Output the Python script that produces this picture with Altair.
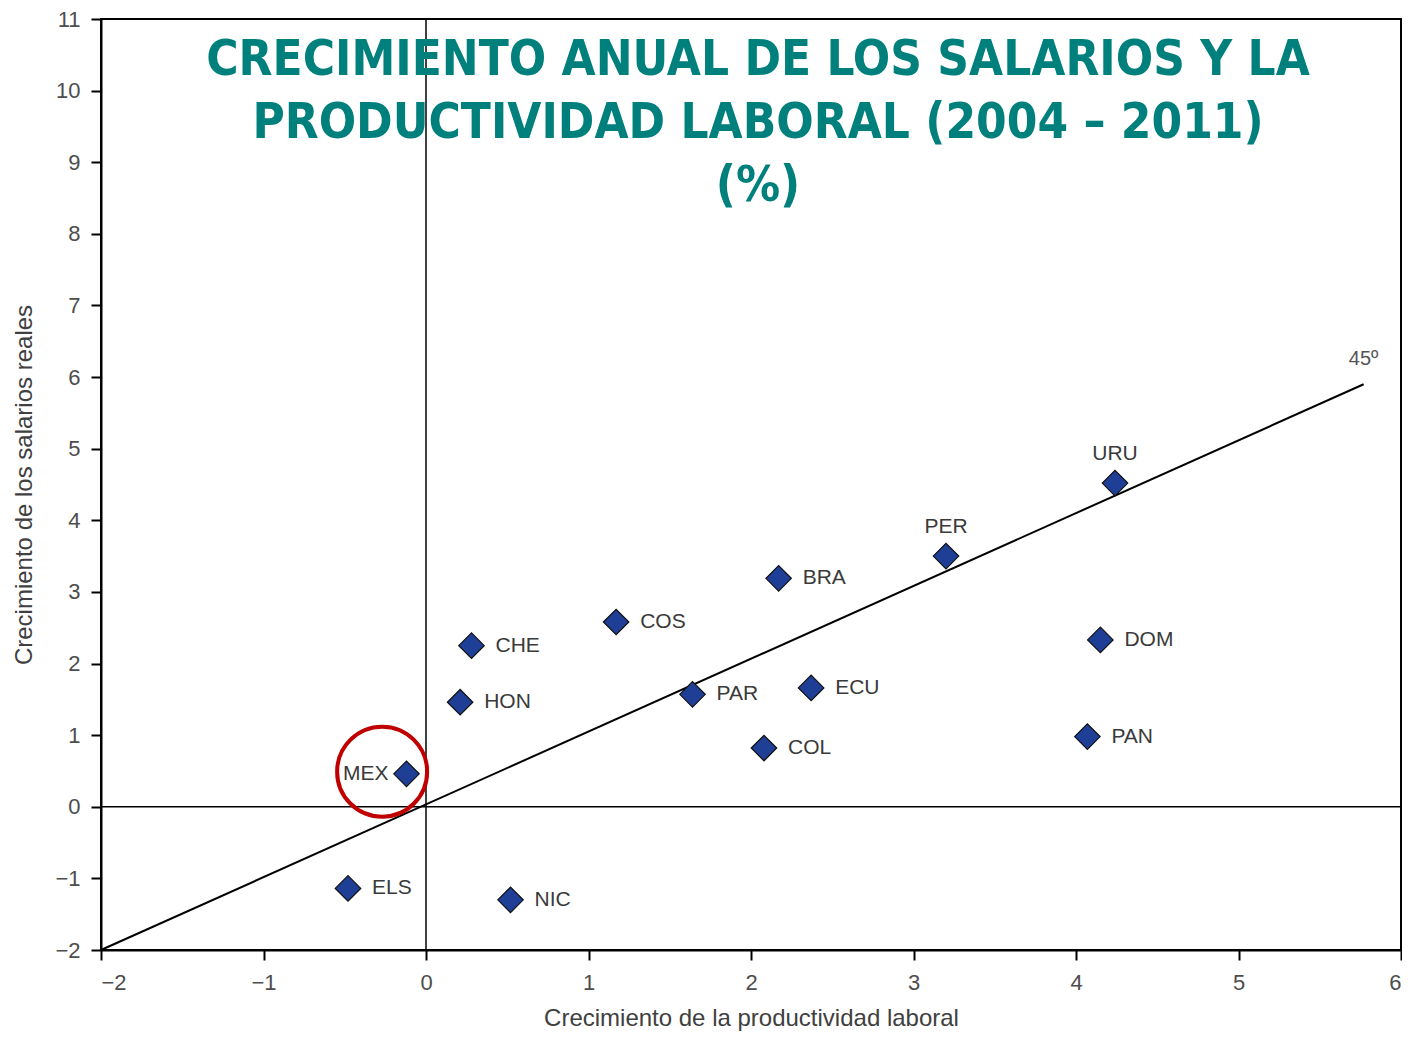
import altair as alt
import pandas as pd

# ---- data ----
countries = ["MEX", "ELS", "NIC", "HON", "CHE", "COS", "PAR", "BRA", "COL", "ECU", "PER", "URU", "DOM", "PAN"]
productividad = [-0.12, -0.48, 0.52, 0.21, 0.28, 1.17, 1.64, 2.17, 2.08, 2.37, 3.20, 4.24, 4.15, 4.07]
salarios = [0.46, -1.14, -1.30, 1.46, 2.25, 2.58, 1.57, 3.19, 0.82, 1.66, 3.50, 4.52, 2.33, 0.98]
label_pos = ["left", "right", "right", "right", "right", "right", "right", "right",
             "right", "right", "above", "above", "right", "right"]

line_x = [-2.0, 5.77]
line_y = [-2.0, 5.90]
line_label = ["", "45º"]

circle_x = [-0.27]
circle_y = [0.49]

x_ticks = [-2, -1, 0, 1, 2, 3, 4, 5, 6]
y_ticks = [-2, -1, 0, 1, 2, 3, 4, 5, 6, 7, 8, 9, 10, 11]

title_lines = ["CRECIMIENTO ANUAL DE LOS SALARIOS Y LA",
               "PRODUCTIVIDAD LABORAL (2004 – 2011)",
               "(%)"]
x_title = "Crecimiento de la productividad laboral"
y_title = "Crecimiento de los salarios reales"

# ---- tables ----
pts = pd.DataFrame({"pais": countries, "x": productividad, "y": salarios, "pos": label_pos})
line_df = pd.DataFrame({"x": line_x, "y": line_y, "lab": line_label})
circ_df = pd.DataFrame({"x": circle_x, "y": circle_y})
zero_df = pd.DataFrame({"x": [0.0], "y": [0.0]})

NARROW = "Liberation Sans Narrow, Arial Narrow, Liberation Sans, sans-serif"

xscale = alt.Scale(domain=[-2, 6], nice=False, zero=False)
yscale = alt.Scale(domain=[-2, 11], nice=False, zero=False)


def X(axis=True):
    if axis:
        return alt.X("x:Q", scale=xscale,
                     axis=alt.Axis(values=x_ticks, title=x_title, grid=False,
                                   labelPadding=12, titlePadding=13, format="d"))
    return alt.X("x:Q", scale=xscale)


def Y(axis=True):
    if axis:
        return alt.Y("y:Q", scale=yscale,
                     axis=alt.Axis(values=y_ticks, title=y_title, grid=False,
                                   labelPadding=11, titlePadding=18, format="d"))
    return alt.Y("y:Q", scale=yscale)


base_axes = alt.Chart(zero_df).mark_point(opacity=0).encode(x=X(), y=Y())

zero_v = alt.Chart(zero_df).mark_rule(color="black", strokeWidth=1.5).encode(x=X(False))
zero_h = alt.Chart(zero_df).mark_rule(color="black", strokeWidth=1.5).encode(y=Y(False))

diag = alt.Chart(line_df).mark_line(color="black", strokeWidth=2).encode(x=X(False), y=Y(False))
diag_lab = alt.Chart(line_df).mark_text(
    font=NARROW, fontSize=20, color="#555555", align="center", baseline="alphabetic", dy=-19
).encode(x=X(False), y=Y(False), text="lab:N")

points = alt.Chart(pts).mark_point(
    shape="diamond", filled=True, size=650, fill="#1f3f96", stroke="#111111",
    strokeWidth=1.2, opacity=1
).encode(x=X(False), y=Y(False))

lab_right = alt.Chart(pts).transform_filter(alt.datum.pos == "right").mark_text(
    font=NARROW, fontSize=21, color="#3a3a3a", align="left", baseline="middle", dx=24
).encode(x=X(False), y=Y(False), text="pais:N")

lab_left = alt.Chart(pts).transform_filter(alt.datum.pos == "left").mark_text(
    font=NARROW, fontSize=21, color="#3a3a3a", align="right", baseline="middle", dx=-18
).encode(x=X(False), y=Y(False), text="pais:N")

lab_above = alt.Chart(pts).transform_filter(alt.datum.pos == "above").mark_text(
    font=NARROW, fontSize=21, color="#3a3a3a", align="center", baseline="alphabetic", dy=-23
).encode(x=X(False), y=Y(False), text="pais:N")

circle = alt.Chart(circ_df).mark_point(
    shape="circle", filled=False, size=8100, stroke="#c00000", strokeWidth=4, opacity=1
).encode(x=X(False), y=Y(False))

title = alt.Chart(zero_df).mark_text(
    font="DejaVu Sans Condensed, Liberation Sans, sans-serif", fontWeight="bold",
    fontSize=49, color="#00807c", align="center", baseline="alphabetic", lineHeight=63
).encode(x=alt.value(657), y=alt.value(56), text=alt.value(title_lines))

chart = alt.layer(
    base_axes, zero_v, zero_h, diag, diag_lab, points,
    lab_right, lab_left, lab_above, circle, title
).properties(
    width=1300, height=931,
    autosize=alt.AutoSizeParams(type="none"),
    padding={"left": 93, "top": 11, "right": 1, "bottom": 86},
    background="white",
).configure_view(
    stroke="black", strokeWidth=2
).configure_axis(
    domainColor="black", domainWidth=2, tickColor="black", tickWidth=2, tickSize=10,
    labelFont=NARROW, labelFontSize=22, labelColor="#4d4d4d",
    titleFont=NARROW, titleFontSize=24, titleColor="#404040", titleFontWeight="normal",
)

chart.save("out.html", embed_options={"renderer": "svg", "actions": False})
